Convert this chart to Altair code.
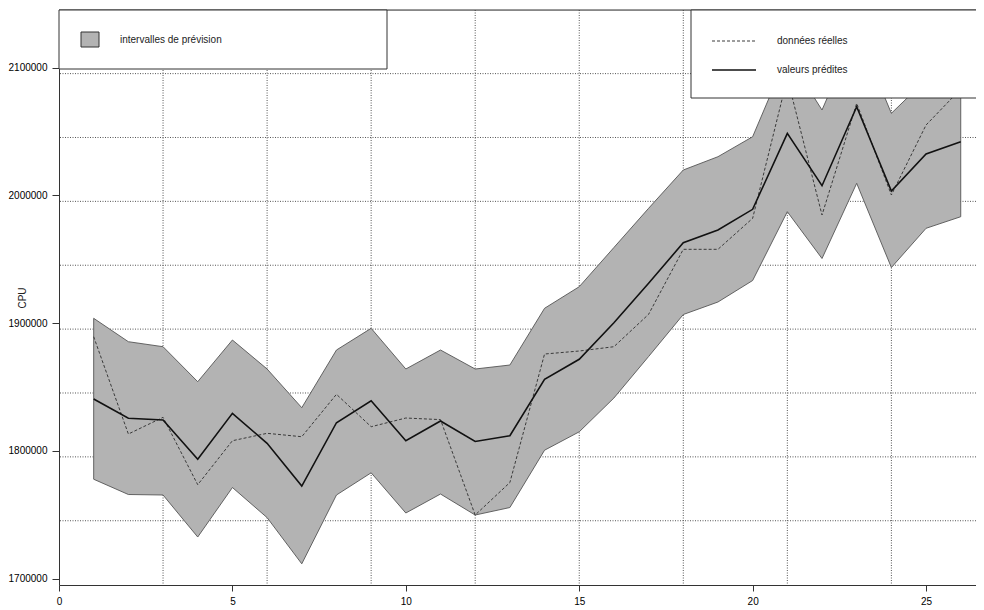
import altair as alt
import pandas as pd

# ---- data ----
t = list(range(1, 27))
lower = [1777800, 1765830, 1765440, 1732560, 1771310, 1747750, 1711580, 1765440,
         1782820, 1751350, 1766220, 1749780, 1755650, 1800510, 1814910, 1841370,
         1873850, 1906730, 1916520, 1933350, 1987210, 1950570, 2009440, 1943520,
         1974210, 1983290]
upper = [1903760, 1885440, 1881530, 1854130, 1886770, 1864070, 1833780, 1878940,
         1895930, 1864070, 1878940, 1864070, 1867200, 1911590, 1928490, 1959180,
         1989860, 2019850, 2030260, 2045910, 2109870, 2066810, 2129440, 2064230,
         2090540, 2100710]
actual = [1889350, 1813190, 1826260, 1773500, 1807940, 1813730, 1811070, 1844260,
          1818900, 1825710, 1824460, 1749780, 1775220, 1875810, 1878160, 1881530,
          1906890, 1957770, 1957770, 1982040, 2091870, 1984620, 2072060, 2000280,
          2055070, 2083260]
predicted = [1840590, 1825480, 1824150, 1793380, 1829390, 1805910, 1772480, 1822030,
             1839260, 1807940, 1823360, 1807320, 1811860, 1856010, 1871660, 1900310,
             1931160, 1962940, 1972880, 1989080, 2048570, 2007560, 2069400, 2003410,
             2032370, 2042000]

x_ticks = [0, 5, 10, 15, 20, 25]
y_ticks = [1700000, 1800000, 1900000, 2000000, 2100000]
x_grid = [3, 6, 9, 12, 15, 18, 21, 24]
y_grid = [1745300, 1795300, 1845300, 1895300, 1945300, 1995300, 2045300, 2095300]

legend_band = "intervalles de prévision"
legend_actual = "données réelles"
legend_pred = "valeurs prédites"
y_title = "CPU"

# ---- layout ----
W, H = 917, 575
X_DOMAIN = [0, 26.44]
Y_DOMAIN = [1695000, 2145100]
FONT = "Liberation Sans"
BAND = "#B3B3B3"
EDGE = "#555555"
AXC = "#333333"

df = pd.DataFrame({"t": t, "lower": lower, "upper": upper,
                   "actual": actual, "predicted": predicted})

xs = alt.Scale(domain=X_DOMAIN, nice=False, zero=False)
ys = alt.Scale(domain=Y_DOMAIN, nice=False, zero=False)

x_axis = alt.Axis(values=x_ticks, grid=False, title=None, tickSize=6,
                  labelPadding=5, labelFlush=False, format="d",
                  domainColor=AXC, tickColor=AXC)
y_axis = alt.Axis(values=y_ticks, grid=False, title=y_title, tickSize=7,
                  labelPadding=5, labelFlush=False, format="d",
                  titleX=-34, titleY=H / 2, titleAngle=270, titleAlign="center",
                  titleBaseline="alphabetic", titleFontWeight="normal",
                  titleFontSize=10, titleFont=FONT, titleColor="#222222",
                  domainColor=AXC, tickColor=AXC)

one = alt.Data(values=[{}])

vgrid = alt.Chart(pd.DataFrame({"g": x_grid})).mark_rule(
    color="#555555", strokeDash=[1, 1.5], strokeWidth=1
).encode(x=alt.X("g:Q", scale=xs, axis=x_axis))

hgrid = alt.Chart(pd.DataFrame({"g": y_grid})).mark_rule(
    color="#555555", strokeDash=[1, 1.5], strokeWidth=1
).encode(y=alt.Y("g:Q", scale=ys, axis=y_axis))

band = alt.Chart(df).mark_area(
    fill=BAND, stroke=EDGE, strokeWidth=0.9, opacity=1
).encode(
    x=alt.X("t:Q", scale=xs),
    y=alt.Y("lower:Q", scale=ys),
    y2="upper:Q",
)

act_line = alt.Chart(df).mark_line(
    color="#3a3a3a", strokeWidth=1, strokeDash=[3, 2]
).encode(x=alt.X("t:Q", scale=xs), y=alt.Y("actual:Q", scale=ys))

pred_line = alt.Chart(df).mark_line(
    color="#111111", strokeWidth=1.6
).encode(x=alt.X("t:Q", scale=xs), y=alt.Y("predicted:Q", scale=ys))

# top border of the plot box
top_rule = alt.Chart(one).mark_rule(color=AXC, strokeWidth=1).encode(
    x=alt.value(0), x2=alt.value(W), y=alt.value(0))

# legend boxes
leg_left = alt.Chart(one).mark_rect(fill="white", stroke=AXC, strokeWidth=1).encode(
    x=alt.value(0), x2=alt.value(328), y=alt.value(0), y2=alt.value(59))
leg_swatch = alt.Chart(one).mark_rect(fill=BAND, stroke=AXC, strokeWidth=1).encode(
    x=alt.value(22), x2=alt.value(40), y=alt.value(22), y2=alt.value(37))
leg_left_txt = alt.Chart(one).mark_text(
    text=legend_band, align="left", baseline="middle", font=FONT,
    fontSize=10, color="#222222"
).encode(x=alt.value(61), y=alt.value(30))

leg_right = alt.Chart(one).mark_rect(fill="white", stroke=AXC, strokeWidth=1).encode(
    x=alt.value(632), x2=alt.value(W + 6), y=alt.value(0), y2=alt.value(88))
leg_dash = alt.Chart(one).mark_rule(color="#3a3a3a", strokeWidth=1, strokeDash=[3, 2]).encode(
    x=alt.value(653), x2=alt.value(697), y=alt.value(31))
leg_solid = alt.Chart(one).mark_rule(color="#111111", strokeWidth=1.6).encode(
    x=alt.value(653), x2=alt.value(697), y=alt.value(60))
leg_txt1 = alt.Chart(one).mark_text(
    text=legend_actual, align="left", baseline="middle", font=FONT,
    fontSize=10, color="#222222"
).encode(x=alt.value(718), y=alt.value(31))
leg_txt2 = alt.Chart(one).mark_text(
    text=legend_pred, align="left", baseline="middle", font=FONT,
    fontSize=10, color="#222222"
).encode(x=alt.value(718), y=alt.value(60))

chart = alt.layer(
    vgrid, hgrid, band, act_line, pred_line, top_rule,
    leg_left, leg_swatch, leg_left_txt,
    leg_right, leg_dash, leg_solid, leg_txt1, leg_txt2,
).properties(
    width=W, height=H,
    autosize=alt.AutoSizeParams(type="none"),
    padding={"left": 51, "top": 2, "right": 0, "bottom": 20},
).configure_view(
    stroke=None
).configure_axis(
    labelFont=FONT, labelFontSize=10, labelColor="#222222",
).configure(background="white")

chart.save("out.html", embed_options={"renderer": "svg", "actions": False})
